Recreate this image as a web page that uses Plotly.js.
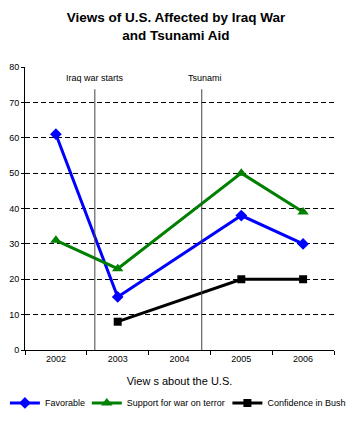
<!DOCTYPE html>
<html><head><meta charset="utf-8">
<script src="https://cdn.plot.ly/plotly-3.0.1.min.js"></script>
<style>body{margin:0;padding:0;background:#fff}#chart{width:352px;height:427px}</style>
</head><body><div id="chart"></div>
<script>
const years = ['2002','2003','2004','2005','2006'];
const favorable = [61, 15, null, 38, 30];
const supportWar = [31, 23, null, 50, 39];
const confidenceBush = [null, 8, null, 20, 20];
const eventNames = ['Iraq war starts', 'Tsunami'];
const eventPositions = [0.63, 2.36];

const font = 'Liberation Sans, Arial, sans-serif';
const traces = [
  {x: years, y: favorable, name: 'Favorable', mode: 'lines+markers', connectgaps: true, legend: 'legend',
   line: {color: '#0000ff', width: 3}, marker: {symbol: 'diamond', size: 9, color: '#0000ff'}},
  {x: years, y: supportWar, name: 'Support for war on terror', mode: 'lines+markers', connectgaps: true, legend: 'legend2',
   line: {color: '#008000', width: 3}, marker: {symbol: 'triangle-up', size: 10, color: '#008000'}},
  {x: years, y: confidenceBush, name: 'Confidence in Bush', mode: 'lines+markers', connectgaps: true, legend: 'legend3',
   line: {color: '#000000', width: 3}, marker: {symbol: 'square', size: 8, color: '#000000'}}
];
const shapes = eventPositions.map(p => ({type: 'line', xref: 'x', yref: 'y', x0: p, x1: p, y0: 0, y1: 73.7,
  line: {color: '#444', width: 1}}));
const annotations = eventNames.map((t, i) => ({text: t, xref: 'x', yref: 'y', x: eventPositions[i] + (i ? 0.05 : 0), y: 77,
  showarrow: false, font: {family: font, size: 9, color: '#000'}}));

const legBase = {orientation: 'h', y: -0.187, yanchor: 'middle', xanchor: 'left', font: {family: font, size: 9},
  itemwidth: 30, bgcolor: 'rgba(0,0,0,0)'};
const layout = {
  width: 352, height: 427,
  margin: {l: 25, r: 18, t: 67, b: 77, autoexpand: false},
  paper_bgcolor: '#fff', plot_bgcolor: '#fff',
  font: {family: font, size: 9, color: '#000'},
  title: {text: '<b>Views of U.S. Affected by Iraq War<br>and Tsunami Aid</b>', x: 0.5, xanchor: 'center',
    yref: 'container', y: 1 - 22/427, yanchor: 'middle',
    font: {family: font, size: 13.5, color: '#000'}},
  xaxis: {type: 'category', range: [-0.5, 4.5], showline: true, linecolor: '#000', linewidth: 1,
    ticks: 'outside', tickcolor: '#000', ticklen: 4, tickson: 'boundaries', showgrid: false, zeroline: false,
    tickfont: {family: font, size: 9},
    title: {text: 'View s about the U.S.', font: {family: font, size: 11}, standoff: 14}},
  yaxis: {range: [0, 80], dtick: 10, showline: true, linecolor: '#000', linewidth: 1,
    ticks: 'outside', tickcolor: '#000', ticklen: 3, showgrid: true, gridcolor: '#000', griddash: '5px,3px', gridwidth: 1,
    zeroline: false, tickfont: {family: font, size: 9}},
  legend: Object.assign({}, legBase, {x: -0.065}),
  legend2: Object.assign({}, legBase, {x: 0.2}),
  legend3: Object.assign({}, legBase, {x: 0.655}),
  shapes: shapes, annotations: annotations, showlegend: true
};
Plotly.newPlot('chart', traces, layout, {displayModeBar: false, staticPlot: true});
</script></body></html>
